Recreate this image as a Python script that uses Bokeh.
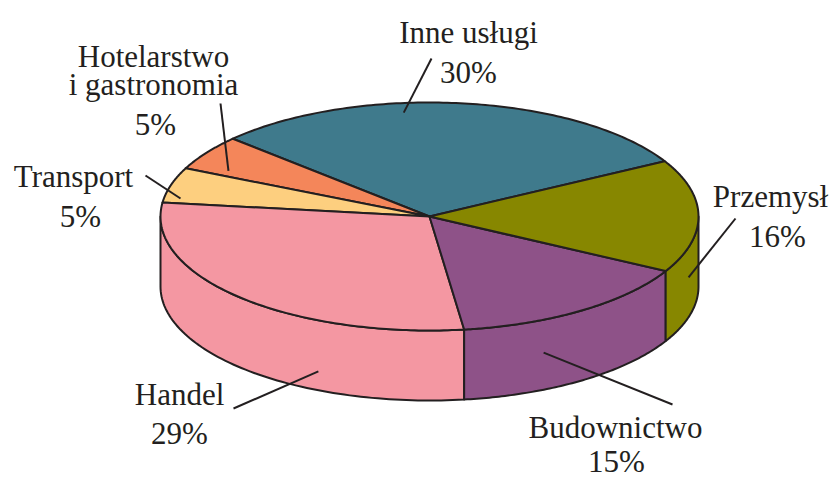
import numpy as np
from bokeh.plotting import figure
from bokeh.models import Range1d
from bokeh.core.properties import value
from bokeh.embed import file_html
from bokeh.resources import INLINE

# ---- data ----
categories = ["Inne usługi", "Hotelarstwo\ni gastronomia", "Transport", "Handel", "Budownictwo", "Przemysł"]
shares = [30, 5, 5, 29, 15, 16]
colors = ["#3f7a8c", "#f4865a", "#fdcf7f", "#f497a2", "#8e5288", "#878700"]

# ---- geometry / layout (pixels) ----
CX, CY, A, B, DEPTH = 429.0, 216.0, 269.0, 114.0, 70.0
START = 29.0  # degrees, counter-clockwise
EDGE = "#231f20"
FONT = value("Liberation Serif")
FS = "31px"
TEXT_SHIFT = -9  # compensate baseline rendering

# label layout: name x, name baselines, pct x, pct baseline
name_pos = [(468, [41]), (153, [65, 93]), (73, [185]), (179, [403]), (615, [436]), (770, [205])]
pct_pos = [(468, 81), (155, 133), (80, 225), (179, 442), (616, 470), (777, 245)]
# leaders: outer end (px), inner end as (angle deg, radius frac, depth frac)
leader_out = [(431, 58), (220, 103), (145, 175), (233, 408), (672, 404), (735, 218)]
leader_in = [(96, 0.916, 0), (151.8, 0.848, 0), (170.3, 0.939, 0), (245.6, 1.0, 0.73), (295.1, 1.0, 0.47), (344.4, 1.0, 0.43)]


def pt(theta_deg, r=1.0, z=0.0):
    t = np.radians(theta_deg)
    return CX + r * A * np.cos(t), CY - r * B * np.sin(t) + z * DEPTH


total = float(sum(shares))
bounds = []
acc = START
for s in shares:
    t1 = acc
    t2 = acc + 360.0 * s / total
    bounds.append((t1, t2))
    acc = t2

p = figure(width=834, height=478, output_backend="svg", toolbar_location=None,
           x_range=Range1d(0, 834), y_range=Range1d(478, 0),
           x_axis_type=None, y_axis_type=None, min_border=0)
p.outline_line_color = None
p.xgrid.visible = False
p.ygrid.visible = False
p.background_fill_color = "white"

# side faces (front half only)
sxs, sys_, scol = [], [], []
for (t1, t2), c in zip(bounds, colors):
    for shift in (-360.0, 0.0, 360.0):
        lo = max(t1, 180.0 + shift)
        hi = min(t2, 360.0 + shift)
        if hi > lo:
            ang = np.linspace(lo, hi, 80)
            tx, ty = pt(ang)
            bx, by = pt(ang[::-1], 1.0, 1.0)
            sxs.append(list(np.concatenate([tx, bx])))
            sys_.append(list(np.concatenate([ty, by])))
            scol.append(c)
p.patches(sxs, sys_, fill_color=scol, line_color=EDGE, line_width=2, line_join="round")

# top slices
txs, tys = [], []
for (t1, t2) in bounds:
    ang = np.linspace(t1, t2, 120)
    ax, ay = pt(ang)
    txs.append([CX] + list(ax))
    tys.append([CY] + list(ay))
p.patches(txs, tys, fill_color=colors, line_color=EDGE, line_width=2, line_join="round")

# leaders
lx0, ly0, lx1, ly1 = [], [], [], []
for (ox, oy), (ta, tr, tz) in zip(leader_out, leader_in):
    ix, iy = pt(ta, tr, tz)
    lx0.append(ox); ly0.append(oy); lx1.append(float(ix)); ly1.append(float(iy))
p.segment(lx0, ly0, lx1, ly1, line_color=EDGE, line_width=2)

# labels
nx, ny, nt = [], [], []
for cat, (x, ys) in zip(categories, name_pos):
    for line, y in zip(cat.split("\n"), ys):
        nx.append(x); ny.append(y + TEXT_SHIFT); nt.append(line)
for s, (x, y) in zip(shares, pct_pos):
    nx.append(x); ny.append(y + TEXT_SHIFT); nt.append(f"{s}%")
p.text(nx, ny, text=nt, text_font=FONT, text_font_size=FS, text_align="center",
       text_baseline="alphabetic", text_color=EDGE)

open("out.html", "w").write(file_html(p, INLINE))
